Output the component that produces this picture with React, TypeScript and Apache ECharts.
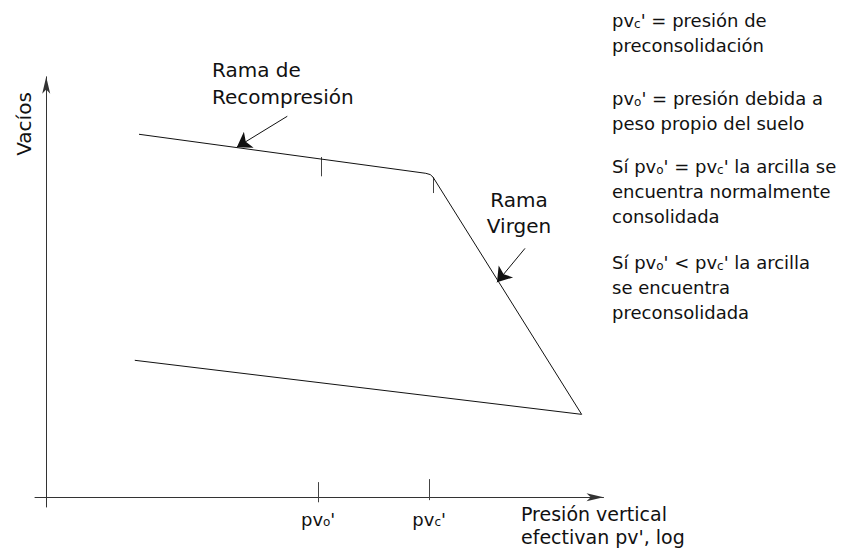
import React, { useEffect, useRef } from "react";
import * as echarts from "echarts";

// Schematic consolidation curve (x = log pressure, y = void ratio), arbitrary units
const mainCurve: number[][] = [
  [1.655, 8.46],
  [6.77, 7.55],
  [6.85, 7.52],
  [6.9, 7.46],
  [9.55, 1.93],
];
const unloadCurve: number[][] = [
  [1.58, 3.19],
  [9.55, 1.93],
];
const axisTickX = [4.85, 6.83];
const axisTickTop = [0.35, 0.42];
const axisTickBottom = [-0.12, -0.07];
const axisTickLabels = ["pv{s|o}'", "pv{s|c}'"];
const curveTickX = [4.9, 6.9];
const curveTickTop = [7.93, 7.46];
const curveTickBottom = [7.48, 7.09];
const pointerArrows: number[][][] = [
  [
    [4.3, 8.88],
    [3.4, 8.16],
  ],
  [
    [8.54, 5.8],
    [8.04, 5.01],
  ],
];

const FONT = "'DejaVu Sans', Verdana, sans-serif";
const INK = "#111";

export default function App() {
  const ref = useRef<HTMLDivElement>(null);
  useEffect(() => {
    if (!ref.current) return;
    const chart = echarts.init(ref.current, null, { renderer: "svg" });
    const sub = { fontSize: 12, fontFamily: FONT, fill: INK, color: INK, verticalAlign: "middle", padding: [6, 0, 0, 0] };
    const ticks = [
      ...axisTickX.map((x, i) => ({ coords: [[x, axisTickBottom[i]], [x, axisTickTop[i]]] })),
      ...curveTickX.map((x, i) => ({ coords: [[x, curveTickBottom[i]], [x, curveTickTop[i]]] })),
    ];
    const mkText = (x: number, y: number, text: string, size: number, extra: any = {}) => ({
      type: "text",
      x,
      y,
      style: {
        text,
        fontSize: size,
        fontFamily: FONT,
        fill: INK,
        lineHeight: extra.lineHeight ?? Math.round(size * 1.3),
        align: extra.align ?? "left",
        textAlign: extra.align ?? "left",
        verticalAlign: extra.va ?? "top",
        textVerticalAlign: extra.va ?? "top",
        rich: { s: { ...sub } },
      },
      rotation: extra.rotation ?? 0,
    });
    chart.setOption({
      animation: false,
      backgroundColor: "#fff",
      grid: { left: 35, right: 255.5, top: 76.8, bottom: 41, containLabel: false, outerBoundsMode: "none" },
      xAxis: {
        type: "value",
        min: -0.2,
        max: 9.94,
        axisLine: {
          onZero: true,
          symbol: ["none", "arrow"],
          symbolSize: [6, 17],
          lineStyle: { color: "#333", width: 1 },
        },
        axisTick: { show: false },
        splitLine: { show: false },
        axisLabel: {
          customValues: axisTickX,
          margin: 3,
          fontSize: 18,
          fontFamily: FONT,
          color: INK,
          formatter: (v: number) => {
            const i = axisTickX.indexOf(v);
            return i >= 0 ? axisTickLabels[i] : "";
          },
          rich: { s: { fontSize: 12, fontFamily: FONT, color: INK, verticalAlign: "middle", padding: [6, 0, 0, 0] } },
        },
      },
      yAxis: {
        type: "value",
        min: -0.23,
        max: 9.8,
        axisLine: {
          onZero: true,
          symbol: ["none", "arrow"],
          symbolSize: [6, 17],
          lineStyle: { color: "#333", width: 1 },
        },
        axisTick: { show: false },
        splitLine: { show: false },
        axisLabel: { show: false },
      },
      series: [
        {
          type: "line",
          data: mainCurve,
          showSymbol: false,
          symbol: "none",
          lineStyle: { color: INK, width: 1 },
        },
        {
          type: "line",
          data: unloadCurve,
          showSymbol: false,
          symbol: "none",
          lineStyle: { color: INK, width: 1 },
        },
        {
          type: "lines",
          coordinateSystem: "cartesian2d",
          data: ticks,
          lineStyle: { color: "#444", width: 1, opacity: 1 },
        },
        {
          type: "lines",
          coordinateSystem: "cartesian2d",
          data: pointerArrows.map((c) => ({ coords: c })),
          symbol: ["none", "arrow"],
          symbolSize: [6, 14],
          lineStyle: { color: INK, width: 1, opacity: 1 },
        },
      ],
      graphic: [
        mkText(24, 124, "Vacíos", 20, { align: "center", va: "middle", rotation: Math.PI / 2 }),
        mkText(212, 56, "Rama de\nRecompresión", 20, { lineHeight: 27 }),
        mkText(519, 187, "Rama\nVirgen", 20, { align: "center", lineHeight: 26 }),
        mkText(521, 503, "Presión vertical\nefectivan pv', log", 19, { lineHeight: 22.5 }),
        mkText(612, 8, "pv{s|c}' = presión de\npreconsolidación", 18, { lineHeight: 25 }),
        mkText(612, 86, "pv{s|o}' = presión debida a\npeso propio del suelo", 18, { lineHeight: 25 }),
        mkText(612, 154, "Sí pv{s|o}' = pv{s|c}' la arcilla se\nencuentra normalmente\nconsolidada", 18, { lineHeight: 25 }),
        mkText(612, 250, "Sí pv{s|o}' < pv{s|c}' la arcilla\nse encuentra\npreconsolidada", 18, { lineHeight: 25 }),
      ],
    });
    return () => chart.dispose();
  }, []);
  return <div ref={ref} style={{ width: 859, height: 548, position: "absolute", left: 0, top: 0 }} />;
}
